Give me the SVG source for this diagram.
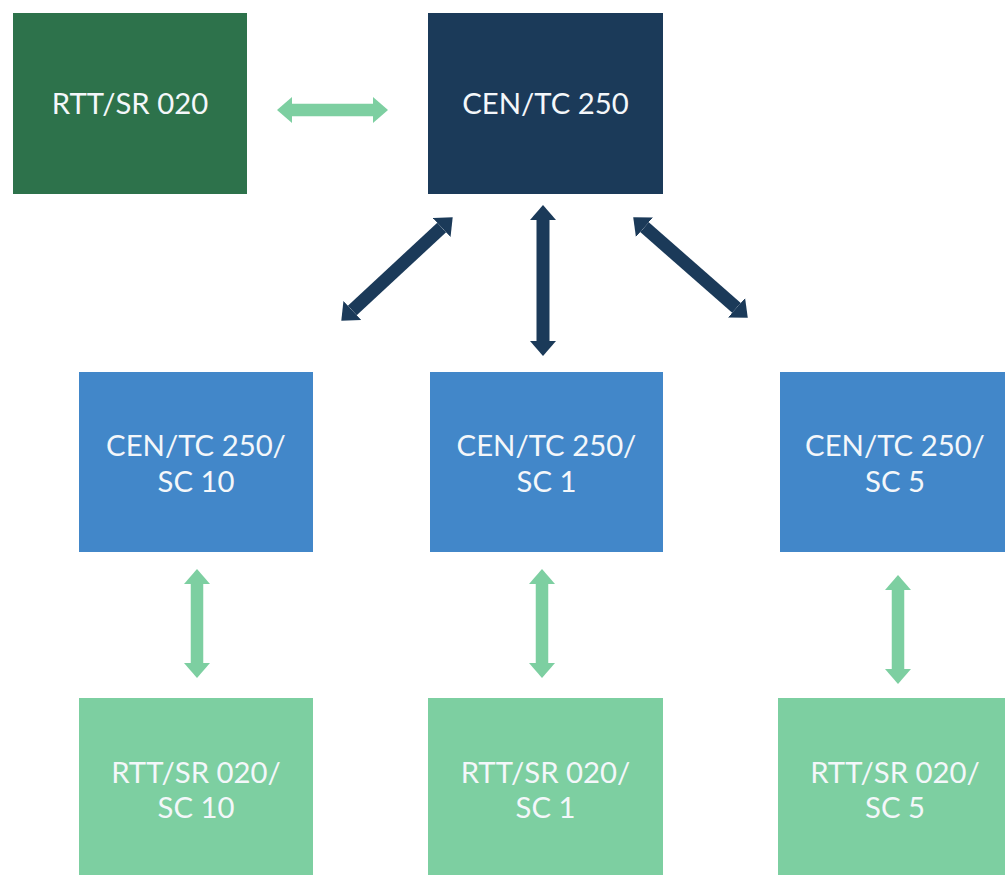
<svg xmlns="http://www.w3.org/2000/svg" width="1005" height="875" viewBox="0 0 1005 875">
<defs>
<style>
.t{font-family:Lato,"Open Sans","Liberation Sans",sans-serif;font-size:29.3px;fill:#f4f7fa;text-anchor:middle;dominant-baseline:central}
.g{stroke:#7dcfa1;stroke-width:12.5;fill:none}
.d{stroke:#1b3a59;stroke-width:13;fill:none}
</style>
<marker id="mg" viewBox="0 0 15 26" refX="0" refY="13" markerWidth="15" markerHeight="26" markerUnits="userSpaceOnUse" orient="auto-start-reverse"><path d="M0,0 L15,13 L0,26 z" fill="#7dcfa1"/></marker>
<marker id="md" viewBox="0 0 15 26" refX="0" refY="13" markerWidth="15" markerHeight="26" markerUnits="userSpaceOnUse" orient="auto-start-reverse"><path d="M0,0 L15,13 L0,26 z" fill="#1b3a59"/></marker>
</defs>
<rect width="1005" height="875" fill="#ffffff"/>
<g id="connectors">
<line class="g" x1="292" y1="110" x2="373" y2="110" marker-start="url(#mg)" marker-end="url(#mg)"/>
<line class="d" x1="441.7" y1="227.5" x2="352.3" y2="310.5" marker-start="url(#md)" marker-end="url(#md)"/>
<line class="d" x1="543" y1="220" x2="543" y2="341" marker-start="url(#md)" marker-end="url(#md)"/>
<line class="d" x1="644.5" y1="227.2" x2="736.5" y2="307.8" marker-start="url(#md)" marker-end="url(#md)"/>
<line class="g" x1="197" y1="584" x2="197" y2="663" marker-start="url(#mg)" marker-end="url(#mg)"/>
<line class="g" x1="542" y1="584" x2="542" y2="663" marker-start="url(#mg)" marker-end="url(#mg)"/>
<line class="g" x1="898" y1="590" x2="898" y2="669" marker-start="url(#mg)" marker-end="url(#mg)"/>
</g>
<g id="rtt-sr-020"><rect x="13" y="13" width="234" height="181" fill="#2d724b"/><text class="t" x="130" y="102">RTT/SR 020</text></g>
<g id="cen-tc-250"><rect x="428" y="13" width="235" height="181" fill="#1b3a59"/><text class="t" x="545.5" y="102">CEN/TC 250</text></g>
<g id="cen-sc10"><rect x="79" y="372" width="234" height="180" fill="#4287c9"/><text class="t" x="196" y="444">CEN/TC 250/</text><text class="t" x="196" y="480">SC 10</text></g>
<g id="cen-sc1"><rect x="430" y="372" width="233" height="180" fill="#4287c9"/><text class="t" x="546.5" y="444">CEN/TC 250/</text><text class="t" x="546.5" y="480">SC 1</text></g>
<g id="cen-sc5"><rect x="780" y="372" width="235" height="180" fill="#4287c9"/><text class="t" x="895" y="444">CEN/TC 250/</text><text class="t" x="895" y="480">SC 5</text></g>
<g id="rtt-sc10"><rect x="79" y="698" width="234" height="187" fill="#7dcfa1"/><text class="t" x="196" y="771">RTT/SR 020/</text><text class="t" x="196" y="806">SC 10</text></g>
<g id="rtt-sc1"><rect x="428" y="698" width="235" height="187" fill="#7dcfa1"/><text class="t" x="545.5" y="771">RTT/SR 020/</text><text class="t" x="545.5" y="806">SC 1</text></g>
<g id="rtt-sc5"><rect x="778" y="698" width="237" height="187" fill="#7dcfa1"/><text class="t" x="895" y="771">RTT/SR 020/</text><text class="t" x="895" y="806">SC 5</text></g>
</svg>
